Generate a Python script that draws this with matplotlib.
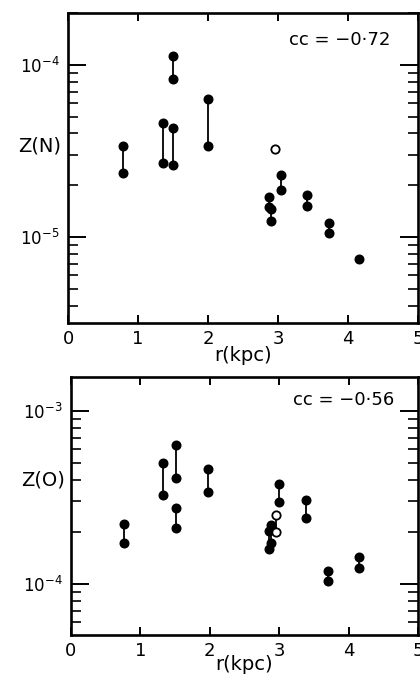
import matplotlib
matplotlib.use("Agg")
import matplotlib.pyplot as plt
from matplotlib.ticker import LogLocator, NullFormatter, LogFormatterMathtext

# Z(N) panel: vertical pairs (upper, lower) at radius r
n_pair_r = [0.79, 1.35, 1.50, 1.50, 2.00, 3.04, 2.87, 2.90, 3.42, 3.73]
n_pair_hi = [3.40e-5, 4.62e-5, 4.32e-5, 1.13e-4, 6.31e-5, 2.29e-5, 1.70e-5, 1.45e-5, 1.75e-5, 1.20e-5]
n_pair_lo = [2.37e-5, 2.71e-5, 2.61e-5, 8.26e-5, 3.40e-5, 1.89e-5, 1.49e-5, 1.24e-5, 1.52e-5, 1.05e-5]
n_single_r = [4.16]
n_single_z = [7.48e-6]
n_open_r = [2.96]
n_open_z = [3.25e-5]

# Z(O) panel
o_pair_r = [0.77, 1.33, 1.52, 1.52, 1.98, 3.00, 2.88, 2.85, 3.39, 3.70, 4.15]
o_pair_hi = [2.23e-4, 5.02e-4, 6.38e-4, 2.76e-4, 4.60e-4, 3.80e-4, 2.18e-4, 2.02e-4, 3.05e-4, 1.19e-4, 1.43e-4]
o_pair_lo = [1.73e-4, 3.26e-4, 4.08e-4, 2.11e-4, 3.39e-4, 2.98e-4, 1.72e-4, 1.59e-4, 2.39e-4, 1.04e-4, 1.24e-4]
o_open_r = [2.96]
o_open_hi = [2.51e-4]
o_open_lo = [1.99e-4]

x_ticks = [0, 1, 2, 3, 4, 5]

fig = plt.figure(figsize=(4.2, 6.79), dpi=100)
ax1 = fig.add_axes([0.162, 0.524, 0.833, 0.4566])
ax2 = fig.add_axes([0.169, 0.0648, 0.826, 0.380])


def pairs(ax, r, hi, lo, filled=True):
    for x, a, b in zip(r, hi, lo):
        ax.plot([x, x], [a, b], color='black', lw=1.3, zorder=2)
        if filled:
            ax.plot([x, x], [a, b], 'o', ms=6.2, mfc='black', mec='black', zorder=3)
        else:
            ax.plot([x, x], [a, b], 'o', ms=6.0, mfc='white', mec='black', mew=1.3, zorder=3)


def style(ax, ylim, ylabel, label_y, xlabel_y, cc, cc_pos):
    ax.set_yscale('log')
    ax.set_xlim(0, 5)
    ax.set_ylim(*ylim)
    ax.set_xticks(x_ticks)
    ax.set_xticklabels([str(t) for t in x_ticks], fontsize=13)
    ax.yaxis.set_major_locator(LogLocator(base=10))
    ax.yaxis.set_minor_locator(LogLocator(base=10, subs=range(2, 10)))
    ax.yaxis.set_major_formatter(LogFormatterMathtext())
    ax.yaxis.set_minor_formatter(NullFormatter())
    ax.tick_params(axis='x', which='both', direction='in', top=True, length=6, width=1.4, pad=5)
    ax.tick_params(axis='y', which='major', direction='in', right=True, length=13, width=1.4,
                   labelsize=12, pad=6)
    ax.tick_params(axis='y', which='minor', direction='in', right=True, length=7, width=1.2)
    for s in ax.spines.values():
        s.set_linewidth(1.9)
    ax.set_ylabel(ylabel, rotation=0, fontsize=14, ha='center', va='center')
    ax.yaxis.set_label_coords(-0.08, label_y)
    ax.set_xlabel('r(kpc)', fontsize=14)
    ax.xaxis.set_label_coords(0.5, xlabel_y)
    ax.text(cc_pos[0], cc_pos[1], cc, transform=ax.transAxes, fontsize=13,
            ha='center', va='center')


pairs(ax1, n_pair_r, n_pair_hi, n_pair_lo)
ax1.plot(n_single_r, n_single_z, 'o', ms=6.2, color='black', zorder=3)
ax1.plot(n_open_r, n_open_z, 'o', ms=6.0, mfc='white', mec='black', mew=1.3, zorder=3)
style(ax1, (3.16e-6, 2.0e-4), 'Z(N)', 0.57, -0.075, 'cc = \u22120\u00b772', (0.777, 0.913))

pairs(ax2, o_pair_r, o_pair_hi, o_pair_lo)
pairs(ax2, o_open_r, o_open_hi, o_open_lo, filled=False)
style(ax2, (5.07e-5, 1.57e-3), 'Z(O)', 0.60, -0.078, 'cc = \u22120\u00b756', (0.787, 0.911))

fig.savefig('out.png', dpi=100)
